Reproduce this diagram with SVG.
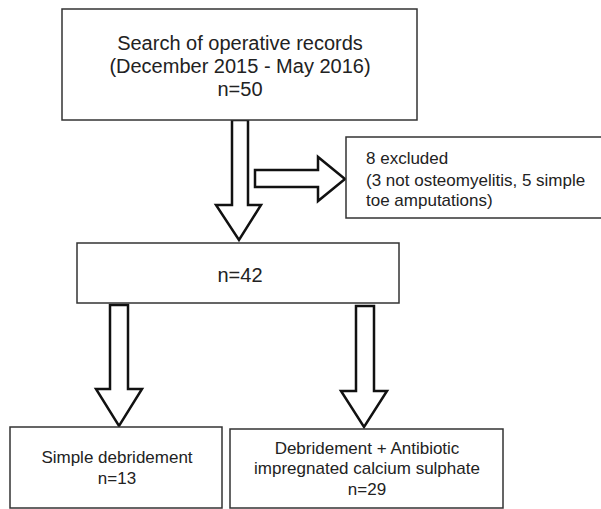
<svg xmlns="http://www.w3.org/2000/svg" width="601" height="509" viewBox="0 0 601 509">
<style>
.box{fill:#fff;stroke:#333;stroke-width:1.5}
.arr{fill:#fff;stroke:#111;stroke-width:2.5;stroke-linejoin:miter}
text{font-family:"Liberation Sans",Arial,sans-serif;fill:#222}
.big{font-size:20px}
.sm{font-size:17px}
</style>
<rect width="601" height="509" fill="#fff"/>
<g id="connectors">
<path class="arr" d="M232,120 L248,120 L248,205 L261,205 L239,240 L216,205 L232,205 Z"/>
<path class="arr" d="M255,170 L318,170 L318,157 L345,179 L318,201 L318,187 L255,187 Z"/>
<path class="arr" d="M110,305 L128,305 L128,389 L142,389 L119,426 L96,389 L110,389 Z"/>
<path class="arr" d="M356,306 L374,306 L374,391 L387,391 L364,427 L341,391 L356,391 Z"/>
</g>
<g id="n1">
<rect class="box" x="62" y="9" width="355" height="111"/>
<text class="big" x="240" y="50" text-anchor="middle">Search of operative records</text>
<text class="big" x="240" y="73" text-anchor="middle">(December 2015 - May 2016)</text>
<text class="big" x="240" y="96" text-anchor="middle">n=50</text>
</g>
<g id="n2">
<rect class="box" x="346" y="137" width="258" height="81"/>
<text class="sm" x="366" y="164">8 excluded</text>
<text class="sm" x="366" y="186">(3 not osteomyelitis, 5 simple</text>
<text class="sm" x="366" y="206">toe amputations)</text>
</g>
<g id="n3">
<rect class="box" x="77" y="243" width="322" height="60"/>
<text class="big" x="240" y="282" text-anchor="middle">n=42</text>
</g>
<g id="n4">
<rect class="box" x="10" y="427" width="212" height="81"/>
<text class="sm" x="117" y="463" text-anchor="middle">Simple debridement</text>
<text class="sm" x="117" y="484" text-anchor="middle">n=13</text>
</g>
<g id="n5">
<rect class="box" x="230" y="429" width="273" height="79"/>
<text class="sm" x="367" y="454" text-anchor="middle">Debridement + Antibiotic</text>
<text class="sm" x="367" y="474" text-anchor="middle">impregnated calcium sulphate</text>
<text class="sm" x="367" y="495" text-anchor="middle">n=29</text>
</g>
</svg>
